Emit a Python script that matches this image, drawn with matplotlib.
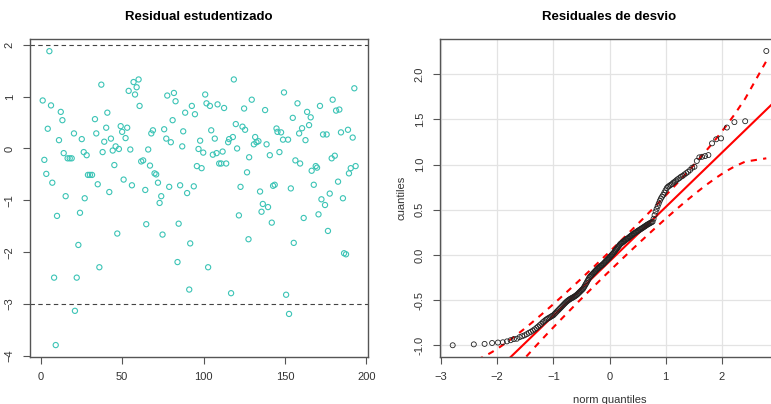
import numpy as np
import matplotlib
matplotlib.use("Agg")
import matplotlib.pyplot as plt
from statistics import NormalDist

plt.rcParams["font.family"] = ["Liberation Sans", "DejaVu Sans"]

obs_x = [1.2, 2.2, 3.4, 4.3, 5.3, 6.3, 7.1, 8.2, 9.2, 10, 11.2, 12.3, 13.3, 14.1, 15.3,
         16.5, 17.8, 19, 20.4, 21, 22.1, 23.1, 24.1, 25.2, 26.4, 27, 28.2, 29, 30.2, 31.5,
         33.3, 34.1, 35, 36, 37.2, 38, 39, 40.2, 40.9, 42.1, 43.1, 44.2, 45.2, 46, 47, 48,
         49.1, 50, 50.9, 52.1, 53.1, 54, 55, 56, 57, 57.9, 58.9, 60.1, 60.7, 61.7, 62.9,
         64.2, 64.8, 66, 67.1, 67.9, 68.9, 69.9, 70.9, 72, 73, 74, 74.8, 75.8, 77.1, 77.7,
         78.9, 79.9, 81, 81.8, 82.8, 84, 84.7, 85.6, 86.9, 87.5, 88.7, 89.9, 91.2, 91.8,
         92.8, 94, 94.7, 95.9, 96.9, 97.9, 98.8, 99.8, 101, 101.8, 102.8, 103.9, 104.7,
         105.7, 106.9, 108, 108.6, 109.6, 110.8, 111.7, 112.6, 113.9, 115.1, 115.7, 116.9,
         118, 118.6, 119.8, 120.6, 121.7, 122.7, 123.9, 124.9, 125.5, 126.7, 127.6, 128,
         129.6, 130.9, 131.7, 132.5, 133.7, 134.7, 135.6, 136.4, 137.8, 138.7, 139.6, 140.7,
         141.9, 142.7, 143.7, 144.8, 145.4, 146.6, 147.6, 148.8, 149.4, 150.7, 151.9, 152.5,
         153.6, 154.8, 155.4, 156.4, 157.7, 158.7, 159.3, 160.5, 161.5, 162.6, 163.6, 164.8,
         165.8, 166.4, 167.7, 168.9, 169.7, 170.6, 171.5, 172.4, 173.4, 174.6, 175.6, 176.4,
         177.5, 178.7, 179.3, 180.6, 181.4, 182.6, 183.4, 184.4, 185.6, 186.3, 187.5, 188.7,
         189.3, 190.4, 191.6, 192.6, 193.4]
stud_resid = [0.925, -0.22, -0.49, 0.38, 1.875, 0.83, -0.66, -2.49, -3.79, -1.30, 0.16, 0.705,
              0.545, -0.09, -0.92, -0.19, -0.19, -0.19, 0.29, -3.13, -2.49, -1.86, -1.24, 0.18,
              -0.07, -0.96, -0.13, -0.51, -0.51, -0.51, 0.565, 0.29, -0.69, -2.29, 1.23, -0.07,
              0.13, 0.40, 0.69, -0.84, 0.19, -0.04, -0.32, 0.04, -1.64, -0.01, 0.43, 0.32, -0.60,
              0.20, 0.40, 1.11, -0.02, -0.71, 1.28, 1.04, 1.18, 1.33, 0.82, -0.25, -0.23, -0.80,
              -1.46, -0.02, -0.33, 0.29, 0.35, -0.48, -0.50, -0.66, -1.05, -0.92, -1.66, 0.37,
              0.19, 1.02, -0.74, 0.12, 0.545, 1.07, 0.91, -2.19, -1.45, -0.71, 0.04, 0.33, 0.69,
              -0.86, -2.72, -1.83, 0.82, -0.73, 0.66, -0.34, -0.01, 0.15, -0.38, -0.08, 1.04,
              0.87, -2.29, 0.82, 0.35, -0.12, 0.19, -0.09, 0.85, -0.29, -0.29, -0.06, 0.78,
              -0.29, 0.12, 0.18, -2.79, 0.22, 1.33, 0.47, 0.0, -1.29, -0.74, 0.42, 0.77, 0.36,
              -0.46, -1.75, -0.17, 0.94, 0.08, 0.22, 0.12, 0.14, -0.83, -1.22, -1.07, 0.74, 0.08,
              -1.13, -0.13, -1.43, -0.72, -0.70, 0.385, 0.32, -0.07, 0.31, 0.17, 1.08, -2.82,
              0.17, -3.19, -0.77, 0.59, -1.82, -0.23, 0.87, 0.29, -0.29, 0.39, -1.34, 0.16, 0.705,
              0.45, 0.60, -0.43, -0.70, -0.34, -0.37, -1.27, 0.82, -0.98, 0.27, -1.09, 0.27,
              -1.59, -0.87, -0.19, 0.94, -0.14, 0.73, -0.64, 0.75, 0.31, -0.96, -2.02, -2.04,
              0.36, -0.48, -0.38, 0.21, 1.16, -0.34]
ref_levels = [2, -3]

# right panel: sorted deviance residuals
dev_resid = [-1.00, -0.99, -0.985, -0.975, -0.97, -0.967, -0.957, -0.944, -0.932, -0.928,
             -0.91, -0.90, -0.89, -0.877, -0.862, -0.851, -0.837, -0.824, -0.809, -0.793,
             -0.778, -0.763, -0.746, -0.733, -0.72, -0.709, -0.700, -0.692, -0.683, -0.675,
             -0.667, -0.653, -0.640, -0.626, -0.614, -0.601, -0.589, -0.577, -0.565, -0.553,
             -0.541, -0.530, -0.519, -0.510, -0.502, -0.494, -0.487, -0.481, -0.476, -0.470,
             -0.464, -0.458, -0.451, -0.444, -0.436, -0.426, -0.417, -0.408, -0.399, -0.389,
             -0.381, -0.371, -0.355, -0.340, -0.324, -0.309, -0.292, -0.276, -0.260, -0.245,
             -0.236, -0.227, -0.218, -0.209, -0.200, -0.191, -0.182, -0.173, -0.164, -0.155,
             -0.147, -0.140, -0.134, -0.127, -0.120, -0.114, -0.107, -0.100, -0.091, -0.083,
             -0.074, -0.066, -0.057, -0.049, -0.041, -0.032, -0.023, -0.014, -0.005, 0.004,
             0.012, 0.022, 0.032, 0.043, 0.054, 0.065, 0.075, 0.086, 0.097, 0.108,
             0.118, 0.127, 0.133, 0.138, 0.145, 0.152, 0.158, 0.165, 0.172, 0.178,
             0.183, 0.190, 0.197, 0.204, 0.211, 0.218, 0.225, 0.232, 0.238, 0.243,
             0.250, 0.256, 0.262, 0.268, 0.274, 0.280, 0.286, 0.292, 0.298, 0.305,
             0.311, 0.318, 0.325, 0.332, 0.338, 0.344, 0.350, 0.356, 0.362, 0.368,
             0.40, 0.44, 0.48, 0.51, 0.54, 0.57, 0.60, 0.625, 0.645, 0.665,
             0.69, 0.715, 0.74, 0.755, 0.765, 0.775, 0.785, 0.80, 0.81, 0.825,
             0.838, 0.85, 0.865, 0.875, 0.89, 0.905, 0.92, 0.94, 0.965, 0.976,
             1.04, 1.08, 1.086, 1.094, 1.105, 1.235, 1.28, 1.29, 1.41, 1.47, 1.48, 2.257]

tick_color = "#333333"
spine_color = "#555555"

fig = plt.figure(figsize=(7.71, 4.04), dpi=100)
ax1 = fig.add_axes([30 / 771, 47 / 404, 338 / 771, 318 / 404])
ax2 = fig.add_axes([440 / 771, 47 / 404, 339 / 771, 318 / 404])

# ---- left: studentized residuals
ax1.scatter(obs_x, stud_resid, s=14, facecolors="none", edgecolors="#3cc4b6", linewidths=0.8)
for lev in ref_levels:
    ax1.axhline(lev, color="#444444", lw=0.8, ls=(0, (4, 3)))
ax1.set_xlim(-6.6, 201)
ax1.set_ylim(-4.02, 2.11)
ax1.set_xticks([0, 50, 100, 150, 200])
ax1.set_yticks([-4, -3, -2, -1, 0, 1, 2])
ax1.set_title("Residual estudentizado", fontsize=9.5, fontweight="bold", pad=14)

# ---- right: normal QQ plot with envelope
n = len(dev_resid)
nd = NormalDist()
pp = np.array([(i - 0.5) / n for i in range(1, n + 1)])
z = np.array([nd.inv_cdf(p) for p in pp])
y = np.sort(np.array(dev_resid))
q1, q3 = np.quantile(y, [0.25, 0.75])
z1, z3 = nd.inv_cdf(0.25), nd.inv_cdf(0.75)
slope = (q3 - q1) / (z3 - z1)
intercept = q1 - slope * z1
fit = intercept + slope * z
dens = np.array([nd.pdf(v) for v in z])
se = slope / dens * np.sqrt(pp * (1 - pp) / n)
crit = nd.inv_cdf(0.975)

ax2.grid(True, color="#e3e3e3", lw=0.9)
ax2.set_axisbelow(True)
ax2.plot([-3.5, 3.5], [intercept - 3.5 * slope, intercept + 3.5 * slope], color="red", lw=1.5)
ax2.plot(z, fit + crit * se, color="red", lw=1.5, ls=(0, (3, 3)))
ax2.plot(z, fit - crit * se, color="red", lw=1.5, ls=(0, (3, 3)))
ax2.scatter(z, y, s=13, facecolors="none", edgecolors="#222222", linewidths=0.6, zorder=3)
ax2.set_xlim(-3.02, 3.02)
ax2.set_ylim(-1.13, 2.39)
ax2.set_xticks([-3, -2, -1, 0, 1, 2])
ax2.set_yticks([-1.0, -0.5, 0.0, 0.5, 1.0, 1.5, 2.0])
ax2.set_yticklabels(["-1.0", "-0.5", "0.0", "0.5", "1.0", "1.5", "2.0"])
ax2.set_xlabel("norm quantiles", fontsize=8, color=tick_color, labelpad=9)
ax2.set_ylabel("cuantiles", fontsize=8, color=tick_color, labelpad=6)
ax2.set_title("Residuales de desvio", fontsize=9.5, fontweight="bold", pad=14)

for ax in (ax1, ax2):
    for sp in ax.spines.values():
        sp.set_color(spine_color)
        sp.set_linewidth(1.0)
    ax.tick_params(axis="both", length=5, width=0.8, color=spine_color,
                   labelsize=8, labelcolor=tick_color, pad=6)
    for lab in ax.get_yticklabels():
        lab.set_rotation(90)
        lab.set_va("center")

fig.savefig("out.png", dpi=100)
